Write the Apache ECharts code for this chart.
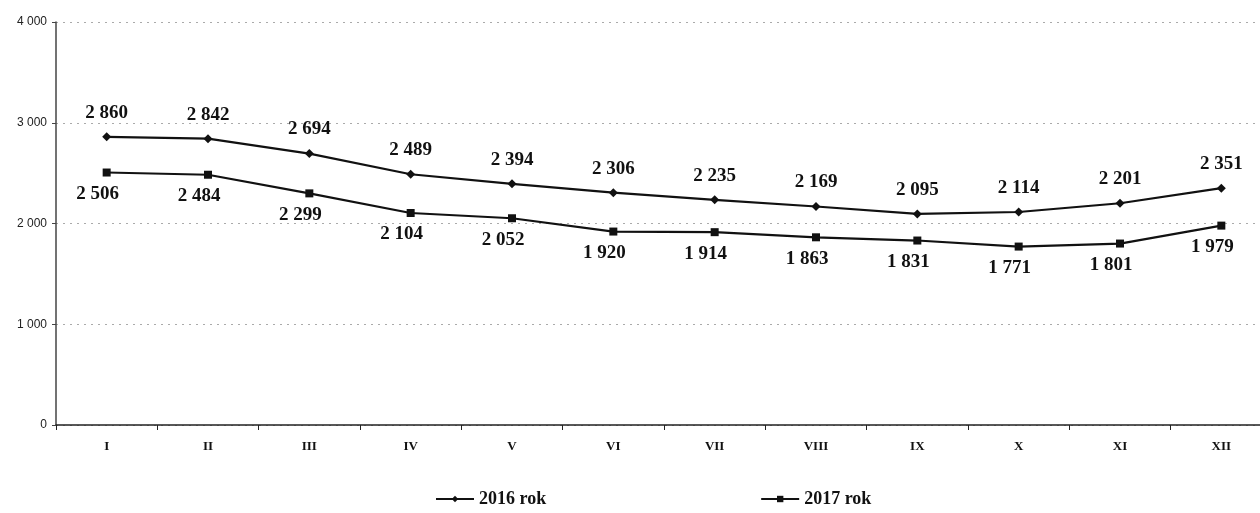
<!DOCTYPE html>
<html>
<head>
<meta charset="utf-8">
<script src="https://cdn.jsdelivr.net/npm/echarts@6/dist/echarts.min.js"></script>
<style>
  html, body { margin: 0; padding: 0; background: #fff; overflow: hidden; }
  /* plot runs past the right edge in the scan, so the canvas is a bit wider than the window */
  #chart { width: 1272px; height: 513px; }
</style>
</head>
<body>
<div id="chart"></div>
<script>
const months = ['I', 'II', 'III', 'IV', 'V', 'VI', 'VII', 'VIII', 'IX', 'X', 'XI', 'XII']
const rok2016 = [2860, 2842, 2694, 2489, 2394, 2306, 2235, 2169, 2095, 2114, 2201, 2351]
const rok2017 = [2506, 2484, 2299, 2104, 2052, 1920, 1914, 1863, 1831, 1771, 1801, 1979]

const fmt = v => String(v).replace(/\B(?=(\d{3})+(?!\d))/g, ' ')
const serif = '"Liberation Serif", "DejaVu Serif", serif'

const myChart = echarts.init(document.getElementById('chart'))
myChart.setOption({
  animation: false,
  grid: { left: 56, right: 0, top: 22, bottom: 88 },
  legend: {
    bottom: 0,
    left: 430,
    itemGap: 214,
    itemWidth: 38,
    itemHeight: 8,
    textStyle: { fontFamily: serif, fontSize: 18, fontWeight: 'bold', color: '#111' },
    data: ['2016 rok', '2017 rok']
  },
  xAxis: {
    type: 'category',
    data: months,
    axisLine: { lineStyle: { color: '#222', width: 1.5 } },
    axisTick: { show: true, length: 5, lineStyle: { color: '#222' } },
    axisLabel: { fontFamily: serif, fontSize: 13, fontWeight: 'bold', color: '#111', margin: 15 }
  },
  yAxis: {
    type: 'value',
    min: 0,
    max: 4000,
    interval: 1000,
    axisLine: { show: true, lineStyle: { color: '#444', width: 1.5 } },
    axisTick: { show: true, length: 4, lineStyle: { color: '#444' } },
    axisLabel: { fontFamily: '"Liberation Sans", Arial, sans-serif', fontSize: 12, color: '#222', margin: 9, formatter: fmt },
    splitLine: { lineStyle: { color: '#aaa', type: [2, 5], width: 1 } }
  },
  series: [
    {
      name: '2016 rok',
      type: 'line',
      data: rok2016,
      symbol: 'diamond',
      symbolSize: 9,
      itemStyle: { color: '#111' },
      lineStyle: { color: '#111', width: 2.2 },
      label: {
        show: true,
        position: 'top',
        distance: 10,
        formatter: p => fmt(p.value),
        fontFamily: serif,
        fontSize: 19,
        fontWeight: 'bold',
        color: '#111'
      }
    },
    {
      name: '2017 rok',
      type: 'line',
      data: rok2017,
      symbol: 'rect',
      symbolSize: 8,
      itemStyle: { color: '#111' },
      lineStyle: { color: '#111', width: 2.2 },
      label: {
        show: true,
        position: 'bottom',
        distance: 8,
        offset: [-9, 0],
        formatter: p => fmt(p.value),
        fontFamily: serif,
        fontSize: 19,
        fontWeight: 'bold',
        color: '#111'
      }
    }
  ]
})
</script>
</body>
</html>
